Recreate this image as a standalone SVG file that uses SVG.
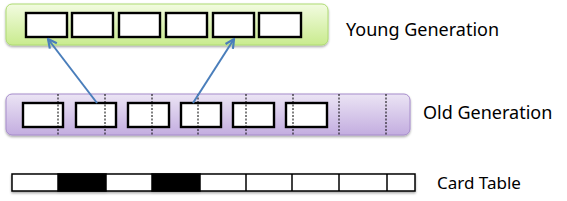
<svg xmlns="http://www.w3.org/2000/svg" width="567" height="201" viewBox="0 0 567 201">
<style>
.cell{fill:#fff;stroke:#000;stroke-width:2.4}
.div{stroke:#000;stroke-width:1;stroke-dasharray:2,1.5}
.lbl{font-family:"Noto Sans","Open Sans","DejaVu Sans",sans-serif;font-size:18px;fill:#000}
.conn{stroke:#4a7ebb;stroke-width:2;fill:none}
.card{stroke:#000;stroke-width:1.5}
</style>
<defs>
<linearGradient id="gy" x1="0" y1="0" x2="0" y2="1">
<stop offset="0" stop-color="#f2fbe0"/>
<stop offset="1" stop-color="#c9eb8e"/>
</linearGradient>
<linearGradient id="go" x1="0" y1="0" x2="0" y2="1">
<stop offset="0" stop-color="#ebe4f4"/>
<stop offset="1" stop-color="#c3ade0"/>
</linearGradient>
<filter id="sh" x="-5%" y="-20%" width="110%" height="160%">
<feDropShadow dx="0" dy="1.5" stdDeviation="1.2" flood-color="#000" flood-opacity="0.35"/>
</filter>
<marker id="ah" viewBox="0 0 10 10" refX="9" refY="5" markerWidth="5.5" markerHeight="5.5" orient="auto" markerUnits="strokeWidth">
<path d="M1,1 L9,5 L1,9" fill="none" stroke="#4a7ebb" stroke-width="2"/>
</marker>
</defs>

<g id="young">
<rect x="6" y="4" width="322" height="41" rx="6" fill="url(#gy)" stroke="#aedb72" stroke-width="1" filter="url(#sh)"/>
<rect class="cell" x="26" y="13" width="41" height="24"/>
<rect class="cell" x="72" y="13" width="41" height="24"/>
<rect class="cell" x="119" y="13" width="41" height="24"/>
<rect class="cell" x="166" y="13" width="41" height="24"/>
<rect class="cell" x="213" y="13" width="41" height="24"/>
<rect class="cell" x="259" y="13" width="42" height="24"/>
<text class="lbl" x="346" y="36">Young Generation</text>
</g>

<g id="old">
<rect x="6" y="94" width="404" height="41" rx="6" fill="url(#go)" stroke="#a68ccb" stroke-width="1" filter="url(#sh)"/>
<rect class="cell" x="23" y="103" width="40" height="24"/>
<rect class="cell" x="76" y="103" width="40" height="24"/>
<rect class="cell" x="128" y="103" width="41" height="24"/>
<rect class="cell" x="181" y="103" width="40" height="24"/>
<rect class="cell" x="233" y="103" width="41" height="24"/>
<rect class="cell" x="286" y="103" width="41" height="24"/>
<line class="div" x1="58" y1="94" x2="58" y2="135"/>
<line class="div" x1="105" y1="94" x2="105" y2="135"/>
<line class="div" x1="152" y1="94" x2="152" y2="135"/>
<line class="div" x1="198" y1="94" x2="198" y2="135"/>
<line class="div" x1="246" y1="94" x2="246" y2="135"/>
<line class="div" x1="293" y1="94" x2="293" y2="135"/>
<line class="div" x1="339" y1="94" x2="339" y2="135"/>
<line class="div" x1="386" y1="94" x2="386" y2="135"/>
<text class="lbl" x="423" y="119">Old Generation</text>
</g>

<g id="cardtable">
<g filter="url(#sh)">
<rect x="12" y="174" width="403" height="17" fill="#fff" class="card"/>
<rect x="58" y="174" width="48" height="17" fill="#000" class="card"/>
<rect x="152" y="174" width="48" height="17" fill="#000" class="card"/>
<line class="card" x1="246" y1="174" x2="246" y2="191"/>
<line class="card" x1="292" y1="174" x2="292" y2="191"/>
<line class="card" x1="339" y1="174" x2="339" y2="191"/>
<line class="card" x1="387" y1="174" x2="387" y2="191"/>
</g>
<text class="lbl" x="437" y="189" style="font-size:17px">Card Table</text>
</g>

<g id="connectors">
<line class="conn" x1="97" y1="103" x2="48" y2="39" marker-end="url(#ah)"/>
<line class="conn" x1="193" y1="103" x2="234" y2="39" marker-end="url(#ah)"/>
</g>
</svg>
